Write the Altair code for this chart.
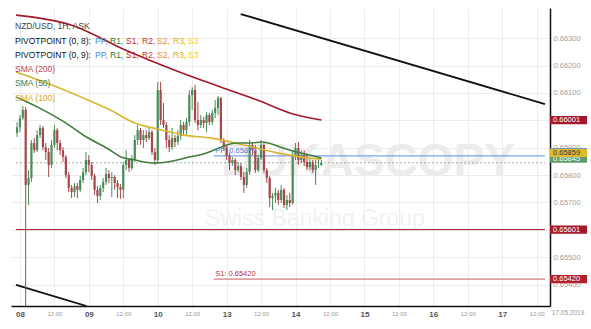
import altair as alt
import pandas as pd

# ---------------- data ----------------
day_labels = ["08", "09", "10", "13", "14", "15", "16", "17"]
x_ticks = [0, 12, 24, 36, 48, 60, 72, 84, 96, 108, 120, 132, 144, 156, 168, 180]
y_ticks = [0.654, 0.655, 0.656, 0.657, 0.658, 0.659, 0.660, 0.661, 0.662, 0.663]
x_domain = [-1.37, 182.9]
y_domain = [0.65322, 0.66410]

# hourly candles, hour index since 08 May 2019 00:00 (weekend collapsed)
first_hour = -1
first_open = 0.65954
closes = [
    0.65975, 0.66008, 0.66038, 0.65764, 0.65789, 0.65917, 0.65891, 0.65946, 0.65972, 0.65902,
    0.65884, 0.65837, 0.65910, 0.65964, 0.65917, 0.65891, 0.65866, 0.65800, 0.65753, 0.65738,
    0.65760, 0.65746, 0.65782, 0.65811, 0.65855, 0.65837, 0.65797, 0.65746, 0.65724, 0.65753,
    0.65775, 0.65804, 0.65789, 0.65793, 0.65771, 0.65756, 0.65746, 0.65837, 0.65855, 0.65826,
    0.65855, 0.65928, 0.65964, 0.65928, 0.65946, 0.65935, 0.65957, 0.65884, 0.65855, 0.66110,
    0.66001, 0.65983, 0.65928, 0.65902, 0.65935, 0.65921, 0.65943, 0.65983, 0.65964, 0.65994,
    0.66092, 0.66110, 0.66001, 0.65983, 0.66001, 0.65990, 0.66019, 0.65994, 0.66027, 0.66045,
    0.66081, 0.65928, 0.65902, 0.65870, 0.65844, 0.65855, 0.65818, 0.65833, 0.65793, 0.65764,
    0.65811, 0.65910, 0.65891, 0.65818, 0.65862, 0.65910, 0.65818, 0.65789, 0.65716, 0.65724,
    0.65735, 0.65709, 0.65746, 0.65691, 0.65709, 0.65698, 0.65873, 0.65899, 0.65855, 0.65873,
    0.65848, 0.65829, 0.65848, 0.65818, 0.65837, 0.65837, 0.65845,
]
highs = [
    0.65994, 0.66019, 0.66052, 0.66048, 0.65818, 0.65928, 0.65935, 0.65964, 0.65983, 0.65979,
    0.65917, 0.65899, 0.65928, 0.65983, 0.65972, 0.65928, 0.65902, 0.65873, 0.65811, 0.65764,
    0.65771, 0.65771, 0.65797, 0.65826, 0.65884, 0.65873, 0.65848, 0.65804, 0.65760, 0.65764,
    0.65789, 0.65826, 0.65818, 0.65811, 0.65800, 0.65782, 0.65767, 0.65848, 0.65891, 0.65862,
    0.65873, 0.65946, 0.65983, 0.65972, 0.65964, 0.65964, 0.65979, 0.65964, 0.65899, 0.66140,
    0.66140, 0.66063, 0.65994, 0.65946, 0.65972, 0.65946, 0.65964, 0.66001, 0.65994, 0.66008,
    0.66110, 0.66121, 0.66129, 0.66067, 0.66019, 0.66012, 0.66030, 0.66027, 0.66038, 0.66074,
    0.66089, 0.66085, 0.65935, 0.65910, 0.65881, 0.65866, 0.65862, 0.65848, 0.65844, 0.65811,
    0.65826, 0.65928, 0.65921, 0.65910, 0.65873, 0.65928, 0.65917, 0.65826, 0.65797, 0.65735,
    0.65753, 0.65746, 0.65764, 0.65753, 0.65727, 0.65735, 0.65891, 0.65917, 0.65921, 0.65891,
    0.65891, 0.65873, 0.65862, 0.65855, 0.65855, 0.65862, 0.65855,
]
lows = [
    0.65939, 0.65957, 0.66001, 0.65300, 0.65691, 0.65775, 0.65881, 0.65884, 0.65935, 0.65891,
    0.65855, 0.65793, 0.65826, 0.65899, 0.65891, 0.65873, 0.65848, 0.65789, 0.65738, 0.65716,
    0.65720, 0.65716, 0.65738, 0.65771, 0.65800, 0.65811, 0.65782, 0.65727, 0.65698, 0.65709,
    0.65738, 0.65764, 0.65771, 0.65720, 0.65746, 0.65716, 0.65713, 0.65716, 0.65818, 0.65811,
    0.65818, 0.65848, 0.65910, 0.65910, 0.65899, 0.65921, 0.65928, 0.65873, 0.65837, 0.65844,
    0.65983, 0.65972, 0.65899, 0.65884, 0.65891, 0.65902, 0.65910, 0.65928, 0.65946, 0.65946,
    0.65979, 0.66038, 0.65990, 0.65964, 0.65972, 0.65972, 0.65957, 0.65983, 0.65983, 0.66008,
    0.66019, 0.65917, 0.65891, 0.65855, 0.65818, 0.65833, 0.65800, 0.65811, 0.65782, 0.65735,
    0.65753, 0.65800, 0.65873, 0.65808, 0.65811, 0.65855, 0.65808, 0.65771, 0.65683, 0.65672,
    0.65698, 0.65691, 0.65698, 0.65680, 0.65672, 0.65683, 0.65691, 0.65855, 0.65837, 0.65844,
    0.65833, 0.65818, 0.65818, 0.65808, 0.65764, 0.65826, 0.65833,
]

sma200_h = [-1.37, 17.8, 36.9, 53.7, 70.1, 82.7, 94.0, 105.0]
sma200_v = [0.66384, 0.66348, 0.66256, 0.66184, 0.66121, 0.66074, 0.66027, 0.66001]
sma100_h = [-1.37, 12.0, 22.2, 30.8, 40.0, 47.9, 57.1, 66.7, 77.9, 89.6, 100.9, 105.0]
sma100_v = [0.66176, 0.66125, 0.66081, 0.66041, 0.65990, 0.65968, 0.65946, 0.65935,
            0.65910, 0.65881, 0.65862, 0.65859]
sma50_h = [-1.37, 6.2, 15.4, 23.2, 30.8, 35.2, 40.0, 46.8, 51.3, 59.1, 65.0, 70.1,
           75.2, 80.3, 84.4, 91.6, 96.4, 100.9, 105.0]
sma50_v = [0.66085, 0.66048, 0.65994, 0.65939, 0.65895, 0.65866, 0.65855, 0.65844,
           0.65848, 0.65866, 0.65881, 0.65902, 0.65917, 0.65917, 0.65921, 0.65899,
           0.65884, 0.65873, 0.65862]

trend_h1 = [76.9, -1.37]
trend_v1 = [0.66388, 0.65399]
trend_h2 = [182.9, 23.2]
trend_v2 = [0.66059, 0.65322]

pivot_start = 67.5
pivot_label_h = 68.0
pp_value = 0.65870
s1_value = 0.65420
level_value = 0.65601
last_price = 0.65845

tag_values = ["0.66001", "", "0.65845", "0.65859", "0.65601", "0.65420"]
tag_pos = [0.66001, 0.65884, 0.65860, 0.65881, 0.65601, 0.65420]
tag_fill = ["#a3182c", "#4d86dd", "#5d9c6c", "#dcbc2e", "#a3182c", "#b0202f"]
tag_text = ["white", "white", "white", "#3a3a3a", "white", "white"]

date_label = "17.05.2019"
date_label_h = 196.6

FONT = "Liberation Sans"

# ---------------- scales / axes ----------------
xs = alt.Scale(domain=x_domain, nice=False, zero=False)
ys = alt.Scale(domain=y_domain, nice=False, zero=False)

day_expr = "[" + ",".join("'%s'" % d for d in day_labels) + "]"
is_day = "datum.value % 24 == 0"
xaxis = alt.Axis(
    values=x_ticks, title=None, ticks=False, grid=True, gridColor="#ececec", gridWidth=1,
    domain=True, domainColor="#111111", domainWidth=1.5, labelPadding=4,
    labelExpr=f"{is_day} ? {day_expr}[datum.value / 24] : '12:00'",
    labelFontSize={"condition": {"test": is_day, "value": 8}, "value": 6},
    labelColor={"condition": {"test": is_day, "value": "#555555"}, "value": "#9a9a9a"},
    labelFontWeight={"condition": {"test": is_day, "value": "bold"}, "value": "normal"},
    labelFont=FONT, labelFlush=False, labelOverlap=False,
)
yaxis = alt.Axis(
    values=y_ticks, format=".5f", orient="right", title=None, ticks=False, grid=True,
    gridColor="#ececec", gridWidth=1, domain=True, domainColor="#111111", domainWidth=1.5,
    labelColor="#a0a0a0", labelFontSize=7.5, labelPadding=3, labelFont=FONT,
    labelOverlap=False,
)


def X(field):
    return alt.X(field, type="quantitative", scale=xs, axis=xaxis)


def Y(field):
    return alt.Y(field, type="quantitative", scale=ys, axis=yaxis)


# ---------------- tables ----------------
opens = [first_open] + closes[:-1]
candles = pd.DataFrame({
    "h": [first_hour + i for i in range(len(closes))],
    "open": opens, "close": closes, "high": highs, "low": lows,
})
up = candles[candles.close >= candles.open]
down = candles[candles.close < candles.open]

sma_sets = [
    (sma200_h, sma200_v, "#a3182c"),
    (sma100_h, sma100_v, "#d8b630"),
    (sma50_h, sma50_v, "#3f7d3f"),
]
trend = pd.DataFrame({"h": trend_h1, "v": trend_v1, "h2": trend_h2, "v2": trend_v2})


def level(h_from, value):
    return pd.DataFrame({"h": [h_from], "h2": [x_domain[1]], "v": [value]})


# ---------------- layers ----------------
watermark = alt.layer(
    alt.Chart(pd.DataFrame({"t": ["DUKASCOPY"]})).mark_text(
        align="left", baseline="alphabetic", fontSize=46, fontWeight="bold",
        font=FONT, color="#ececec").encode(text="t:N", x=alt.value(210), y=alt.value(168)),
    alt.Chart(pd.DataFrame({"t": ["Swiss Banking Group"]})).mark_text(
        align="left", baseline="alphabetic", fontSize=23, font=FONT,
        color="#f2f2f2").encode(text="t:N", x=alt.value(194), y=alt.value(218)),
)

lvl_line = alt.Chart(level(x_domain[0], level_value)).mark_rule(
    color="#9a2228", strokeWidth=1).encode(x=X("h"), x2="h2", y=Y("v"))
s1_line = alt.Chart(level(pivot_start, s1_value)).mark_rule(
    color="#dca2a5", strokeWidth=1.6).encode(x=X("h"), x2="h2", y=Y("v"))
pp_line = alt.Chart(level(pivot_start, pp_value)).mark_rule(
    color="#5a8fe0", strokeWidth=1).encode(x=X("h"), x2="h2", y=Y("v"))
last_line = alt.Chart(level(x_domain[0], last_price)).mark_rule(
    color="#9fb59f", strokeWidth=1, strokeDash=[2, 2]).encode(x=X("h"), x2="h2", y=Y("v"))

trend_lines = alt.Chart(trend).mark_rule(color="#111111", strokeWidth=1.8, clip=True).encode(
    x=X("h"), x2="h2", y=Y("v"), y2="v2")

candle_layers = []
for df, col in [(up, "#4a8c5a"), (down, "#a8464a")]:
    candle_layers.append(alt.Chart(df).mark_rule(strokeWidth=1, clip=True, color=col).encode(
        x=X("h"), y=Y("low"), y2="high"))
    candle_layers.append(alt.Chart(df).mark_bar(size=2.2, clip=True, color=col).encode(
        x=X("h"), y=Y("open"), y2="close"))

sma_layers = [
    alt.Chart(pd.DataFrame({"h": hh, "v": vv})).mark_line(
        strokeWidth=1.6, interpolate="monotone", clip=True, color=col).encode(
        x=X("h"), y=Y("v"))
    for hh, vv, col in sma_sets
]

pp_text = alt.Chart(pd.DataFrame({"h": [pivot_label_h], "v": [pp_value],
                                  "t": [f"PP: {pp_value:.5f}"]})).mark_text(
    align="left", baseline="bottom", dy=-1, fontSize=7.5, font=FONT, color="#4a7fd8").encode(
    x=X("h"), y=Y("v"), text="t:N")
s1_text = alt.Chart(pd.DataFrame({"h": [pivot_label_h], "v": [s1_value],
                                  "t": [f"S1: {s1_value:.5f}"]})).mark_text(
    align="left", baseline="bottom", dy=-1, fontSize=7.5, font=FONT, color="#b8323c").encode(
    x=X("h"), y=Y("v"), text="t:N")

# legend texts (top-left)
legend_rows = [("NZD/USD, 1H, ASK", 4, 18, "#444444")]
tokens = [("PP,", "#4a86e8", 84), ("R1,", "#2e7d32", 99), ("S1,", "#c62828", 115),
          ("R2,", "#d32f2f", 131), ("S2,", "#ef8a17", 146), ("R3,", "#e3b000", 162),
          ("S3", "#f0d400", 177)]
for row_y, period in [(33, "8"), (47, "9")]:
    legend_rows.append((f"PIVOTPOINT (0, {period}):", 4, row_y, "#111111"))
    for t, c, xx in tokens:
        legend_rows.append((t, xx, row_y, c))
legend_rows.append(("SMA (200)", 4, 61, "#c8444f"))
legend_rows.append(("SMA (50)", 4, 75, "#3f7d3f"))
legend_rows.append(("SMA (100)", 4, 90, "#d6aa22"))

legend_layers = [
    alt.Chart(pd.DataFrame({"t": [t]})).mark_text(
        align="left", baseline="middle", fontSize=8.5, font=FONT, color=c).encode(
        text="t:N", x=alt.value(xx), y=alt.value(yy))
    for t, xx, yy, c in legend_rows
]

# price tags in the right gutter
tag_layers = []
for val, pos, fill, tc in zip(tag_values, tag_pos, tag_fill, tag_text):
    df = pd.DataFrame({"lo": [pos - 0.00015], "hi": [pos + 0.00015], "v": [pos], "t": [val]})
    tag_layers.append(alt.Chart(df).mark_rect(color=fill).encode(
        x=alt.value(539), x2=alt.value(576), y=Y("lo"), y2="hi"))
    if val:
        tag_layers.append(alt.Chart(df).mark_text(
            align="left", baseline="middle", fontSize=7.5, font=FONT, color=tc).encode(
            x=alt.value(542), y=Y("v"), text="t:N"))

date_text = alt.Chart(pd.DataFrame({"h": [date_label_h], "t": [date_label]})).mark_text(
    align="right", baseline="middle", fontSize=6.5, font=FONT, color="#9a9a9a").encode(
    x=X("h"), y=alt.value(305), text="t:N")

chart = alt.layer(
    watermark, lvl_line, s1_line, pp_line, last_line, trend_lines, *candle_layers,
    *sma_layers, pp_text, s1_text, *legend_layers, *tag_layers, date_text,
).properties(
    width=539, height=298,
    autosize=alt.AutoSizeParams(type="none"),
    padding={"left": 11, "top": 8, "right": 41, "bottom": 23},
    background="white",
).configure_view(stroke=None)

chart.save("out.html", embed_options={"renderer": "svg", "actions": False})
